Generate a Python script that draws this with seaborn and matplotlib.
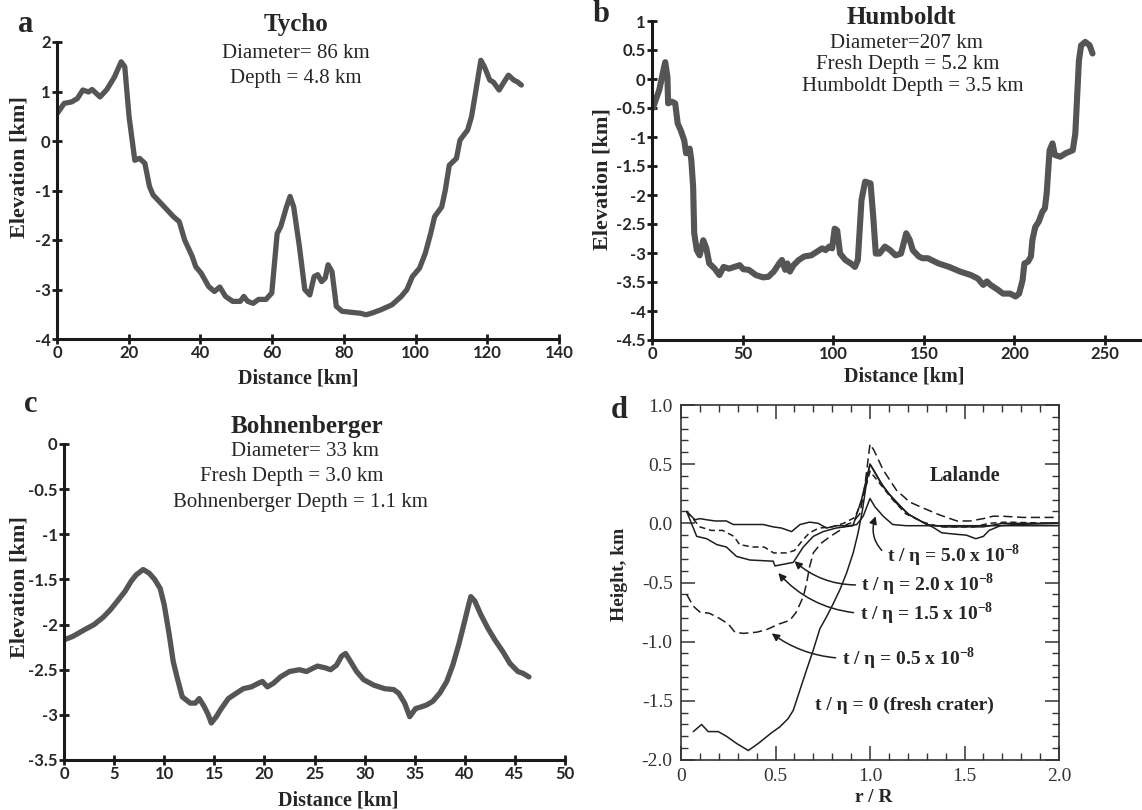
import numpy as np
import pandas as pd
import matplotlib
matplotlib.use("Agg")
import matplotlib.pyplot as plt
import seaborn as sns

# ---------------- data ----------------
tycho_x = [0, 2, 4.1, 5.7, 7.2, 8.8, 9.8, 12, 13.9, 16, 17.9, 18.9, 20.1, 21.7, 23, 24.5, 25.8, 26.8, 29.4, 32.5,
           34.1, 35.6, 37.7, 38.7, 40.2, 42.3, 43.9, 45.4, 47, 49, 51.1, 52.1, 53.2, 54.7, 56.2, 58.3, 59.9, 61.4, 62.4, 64,
           65, 66, 67.6, 69.1, 70.5, 71.7, 72.7, 73.8, 74.8, 75.6, 76.7, 77.9, 79.5, 82, 84.6, 86.2, 87.7, 90.3, 93.4, 96,
           97.6, 99.1, 101.1, 102.7, 104.2, 105.3, 107.3, 108.3, 109.4, 111.4, 112.4, 114.5, 115.6, 116.6, 118.2, 119.2,
           120.7, 121.7, 123.3, 124.4, 125.9, 127.4, 128.5, 129.5]
tycho_y = [0.55, 0.76, 0.79, 0.86, 1.03, 0.99, 1.04, 0.89, 1.04, 1.29, 1.6, 1.5, 0.49, -0.39, -0.35, -0.45, -0.92, -1.09, -1.29, -1.53,
           -1.63, -2.0, -2.33, -2.54, -2.67, -2.94, -3.04, -2.95, -3.14, -3.24, -3.24, -3.14, -3.24, -3.28, -3.2, -3.2, -3.07, -1.87, -1.73, -1.33,
           -1.12, -1.33, -2.13, -3.0, -3.11, -2.74, -2.7, -2.84, -2.77, -2.5, -2.64, -3.34, -3.44, -3.46, -3.48, -3.51, -3.48, -3.41, -3.31, -3.14,
           -3.0, -2.74, -2.57, -2.27, -1.87, -1.53, -1.33, -0.99, -0.49, -0.35, 0.02, 0.22, 0.49, 0.92, 1.63, 1.5,
           1.23, 1.19, 1.03, 1.16, 1.33, 1.23, 1.19, 1.13]

humboldt_x = [0.5, 4, 6.3, 7.3, 8.5, 8.9, 10.9, 12.8, 14.2, 15.8, 17.8, 18.8, 20.8, 21.7, 22.7, 23.3, 24.7, 26.3, 28.3, 30,
              31.6, 34.6, 37.2, 39.5, 42.5, 45.5, 48.4, 50.4, 53.4, 57.3, 61.3, 64.2, 67.2, 70.2, 71.7, 73.5, 74.7, 76.1, 78.1, 81,
              84, 87.9, 90.9, 93.9, 95.8, 97.8, 99.4, 100.8, 102.2, 103.8, 106.7, 109.7, 112, 113.6, 115.6, 117.6, 120.6, 122.1, 123.5, 125.5,
              128.5, 131.4, 134.4, 137.4, 140.3, 142.3, 143.9, 147.2, 149.2, 152.2, 158.1, 164, 170, 175.9, 179.8, 182.8, 184.8, 186.8, 190.7, 193.7,
              197.6, 200.6, 202.6, 204.5, 205.5, 207.5, 209.1, 209.9, 211.5, 213.4, 215.4, 216.8, 217.8, 219.4, 221, 222.3, 225.3, 228.3, 232.2, 233.6,
              234.6, 235.6, 236.8, 239.1, 241.5, 243.1]
humboldt_y = [-0.5, -0.19, 0.15, 0.29, 0.04, -0.42, -0.39, -0.42, -0.77, -0.88, -1.06, -1.28, -1.2, -1.4, -1.86, -2.66, -2.95, -3.04, -2.78, -2.92,
              -3.18, -3.27, -3.38, -3.24, -3.27, -3.24, -3.21, -3.28, -3.29, -3.38, -3.42, -3.41, -3.32, -3.18, -3.12, -3.29, -3.18, -3.32, -3.21, -3.12,
              -3.06, -3.04, -2.98, -2.92, -2.95, -2.89, -2.92, -2.58, -2.61, -3.01, -3.12, -3.18, -3.24, -3.12, -2.09, -1.77, -1.8, -2.38, -3.01, -3.01,
              -2.89, -2.95, -3.04, -3.01, -2.66, -2.78, -2.95, -3.06, -3.09, -3.09, -3.18, -3.24, -3.32, -3.38, -3.44, -3.55, -3.49, -3.55, -3.63, -3.7,
              -3.7, -3.75, -3.7, -3.47, -3.18, -3.15, -3.06, -2.78, -2.55, -2.46, -2.29, -2.23, -1.97, -1.23, -1.11, -1.31, -1.34, -1.28, -1.23, -0.94,
              -0.31, 0.32, 0.58, 0.64, 0.58, 0.44]

bohn_x = [0, 0.9, 2, 3, 3.9, 4.6, 5.4, 6.1, 6.7, 7.2, 7.9, 8.5, 9.05, 9.6, 10, 10.5, 10.9, 11.3, 11.8, 12.6,
          13.1, 13.5, 14, 14.4, 14.7, 15.2, 15.7, 16.4, 17.2, 17.9, 18.7, 19.4, 19.8, 20.3, 20.9, 21.6, 22.5, 23.5, 24.2, 24.9,
          25.3, 26.1, 26.6, 27.2, 27.7, 28.1, 28.6, 29.2, 29.9, 30.9, 32, 32.9, 33.4, 34, 34.5, 35.1, 35.7, 36.2, 36.8, 37.5,
          38.2, 38.8, 39.4, 39.9, 40.3, 40.6, 41, 41.6, 42.3, 43, 43.8, 44.5, 45.3, 45.8, 46.4]
bohn_y = [-2.17, -2.13, -2.06, -2.0, -1.92, -1.84, -1.73, -1.63, -1.52, -1.45, -1.39, -1.43, -1.5, -1.6, -1.78, -2.11, -2.41, -2.59, -2.8, -2.87,
          -2.87, -2.82, -2.91, -3.0, -3.09, -3.02, -2.93, -2.82, -2.76, -2.71, -2.69, -2.65, -2.63, -2.69, -2.65, -2.58, -2.52, -2.5, -2.52, -2.48,
          -2.46, -2.48, -2.5, -2.45, -2.35, -2.32, -2.41, -2.52, -2.61, -2.67, -2.71, -2.72, -2.76, -2.87, -3.02, -2.93, -2.91, -2.89, -2.85, -2.76,
          -2.63, -2.45, -2.22, -2.0, -1.82, -1.69, -1.74, -1.89, -2.04, -2.17, -2.3, -2.43, -2.52, -2.54, -2.58]

# Lalande model profiles (r/R, height km)
fresh_x = [0.065, 0.109, 0.144, 0.197, 0.241, 0.294, 0.356, 0.409, 0.479, 0.523, 0.567, 0.594, 0.629, 0.664, 0.700, 0.735,
           0.770, 0.805, 0.841, 0.876, 0.911, 0.937, 0.960, 0.981, 1.0, 1.02, 1.07, 1.14, 1.21, 1.28, 1.33, 1.38, 1.44,
           1.51, 1.56, 1.6, 1.63, 1.69, 1.76, 2.0]
fresh_y = [-1.76, -1.70, -1.76, -1.76, -1.80, -1.86, -1.92, -1.86, -1.77, -1.72, -1.65, -1.58, -1.41, -1.24, -1.07, -0.89,
           -0.79, -0.68, -0.56, -0.42, -0.25, -0.08, 0.11, 0.34, 0.50, 0.45, 0.31, 0.17, 0.07, 0.01, -0.03, -0.08, -0.09,
           -0.10, -0.13, -0.11, -0.06, -0.02, -0.01, 0.0]
t05_x = [0.03, 0.065, 0.1, 0.15, 0.2, 0.25, 0.285, 0.33, 0.4, 0.45, 0.52, 0.576, 0.61, 0.647, 0.664, 0.68, 0.70, 0.74, 0.79, 0.84,
         0.876, 0.91, 0.946, 0.97, 1.0, 1.02, 1.07, 1.14, 1.21, 1.28, 1.37, 1.46, 1.53, 1.6, 1.65, 1.7, 1.81, 2.0]
t05_y = [-0.6, -0.7, -0.75, -0.76, -0.8, -0.85, -0.92, -0.93, -0.92, -0.9, -0.85, -0.82, -0.75, -0.62, -0.51, -0.37, -0.25, -0.17, -0.11, -0.06,
         -0.01, 0.01, 0.08, 0.28, 0.67, 0.62, 0.45, 0.28, 0.18, 0.13, 0.07, 0.02, 0.02, 0.04, 0.06, 0.06, 0.05, 0.05]
t15_x = [0.03, 0.083, 0.136, 0.19, 0.24, 0.294, 0.365, 0.488, 0.497, 0.594, 0.647, 0.70, 0.752, 0.82, 0.91, 0.955, 1.0,
         1.05, 1.1, 1.2, 1.3, 1.4, 1.6, 1.7, 2.0]
t15_y = [0.1, -0.11, -0.13, -0.18, -0.2, -0.28, -0.31, -0.32, -0.36, -0.33, -0.2, -0.11, -0.07, -0.04, -0.02, 0.2, 0.5,
         0.36, 0.25, 0.08, -0.01, -0.03, -0.03, 0.0, 0.0]
t20_x = [0.03, 0.1, 0.16, 0.22, 0.28, 0.31, 0.38, 0.44, 0.49, 0.56, 0.6, 0.645, 0.68, 0.73, 0.8, 0.86, 0.92, 0.96, 1.0,
         1.05, 1.12, 1.19, 1.28, 1.37, 1.55, 1.63, 1.72, 2.0]
t20_y = [0.1, -0.03, -0.06, -0.06, -0.11, -0.18, -0.2, -0.2, -0.25, -0.25, -0.23, -0.14, -0.08, -0.04, -0.03, 0.0, 0.05, 0.2, 0.44,
         0.34, 0.2, 0.08, 0.01, -0.03, -0.03, 0.0, 0.01, 0.0]
t50_x = [0.03, 0.074, 0.1, 0.136, 0.18, 0.24, 0.277, 0.365, 0.435, 0.488, 0.532, 0.585, 0.63, 0.68, 0.726, 0.77, 0.82, 0.89,
         0.93, 0.964, 1.0, 1.026, 1.07, 1.12, 1.19, 2.0]
t50_y = [0.1, 0.03, 0.04, 0.03, 0.02, 0.02, -0.01, -0.01, -0.01, -0.03, -0.04, -0.07, -0.01, 0.01, 0.0, -0.04, -0.02, -0.02,
         -0.01, 0.06, 0.21, 0.14, 0.06, -0.01, -0.02, -0.02]

# ---------------- style ----------------
sns.set_style("ticks")
plt.rcParams["font.family"] = ["Liberation Serif", "DejaVu Serif"]
plt.rcParams["mathtext.fontset"] = "custom"
plt.rcParams["mathtext.rm"] = "Liberation Serif"
plt.rcParams["mathtext.bf"] = "Liberation Serif:bold"

W, H = 1142, 810
fig = plt.figure(figsize=(W / 100, H / 100), dpi=100)


def rect(l, t, r, b):
    return [l / W, 1 - b / H, (r - l) / W, (b - t) / H]


def ftext(x, y, s, **kw):
    fig.text(x / W, 1 - y / H, s, **kw)


PROFILE = "#555555"
SANS = ["Lato", "DejaVu Sans"]


def style_profile_axes(ax, xlim, ylim, xticks, yticks, ylabel_x, xlabel_y):
    ax.set_xlim(*xlim)
    ax.set_ylim(*ylim)
    ax.set_xticks(xticks)
    ax.set_yticks(yticks)
    ax.set_xticklabels([f"{v:g}" for v in xticks], fontfamily=SANS, fontweight="bold", fontsize=12)
    ax.set_yticklabels([f"{v:g}" for v in yticks], fontfamily=SANS, fontweight="bold", fontsize=12)
    sns.despine(ax=ax)
    for s in ("left", "bottom"):
        ax.spines[s].set_linewidth(2.2)
        ax.spines[s].set_color("#1a1a1a")
    ax.tick_params(direction="inout", length=7, width=2, color="#1a1a1a", pad=1)
    ax.set_ylabel("Elevation [km]", fontsize=16, fontweight="bold")
    ax.set_xlabel("Distance [km]", fontsize=14.5, fontweight="bold")
    # place labels at measured figure positions
    ax.yaxis.set_label_coords(ylabel_x / W, 0.5, transform=fig.transFigure)
    ax.yaxis.label.set_va("center")
    ax.xaxis.set_label_coords(0.5, 1 - xlabel_y / H, transform=fig.transFigure)
    ax.xaxis.label.set_va("center")
    ax.patch.set_alpha(0)


def fix_label_x(ax, xlabel_x, xlabel_y):
    ax.xaxis.set_label_coords(xlabel_x / W, 1 - xlabel_y / H, transform=fig.transFigure)


def fix_label_y(ax, ylabel_x, ylabel_y):
    ax.yaxis.set_label_coords(ylabel_x / W, 1 - ylabel_y / H, transform=fig.transFigure)


# ---------- panel a ----------
axa = fig.add_axes(rect(57, 42, 559, 339))
sns.lineplot(x=tycho_x, y=tycho_y, ax=axa, color=PROFILE, linewidth=3.8, estimator=None, sort=False)
style_profile_axes(axa, (0, 140), (-4, 2), list(range(0, 141, 20)), [-4, -3, -2, -1, 0, 1, 2], 20, 378)
fix_label_x(axa, 298, 378)
fix_label_y(axa, 20, 167)
ftext(26, 24, "a", fontsize=22, fontweight="bold", ha="center", va="center")
ftext(296, 24, "Tycho", fontsize=18, fontweight="bold", ha="center", va="center")
ftext(296, 54, "Diameter= 86 km", fontsize=15, ha="center", va="center")
ftext(296, 79, "Depth = 4.8 km", fontsize=15, ha="center", va="center")

# ---------- panel b ----------
axb = fig.add_axes(rect(652, 21, 1142, 340))
sns.lineplot(x=humboldt_x, y=humboldt_y, ax=axb, color=PROFILE, linewidth=4.4, estimator=None, sort=False)
style_profile_axes(axb, (0, 270.4), (-4.5, 1), [0, 50, 100, 150, 200, 250],
                   [-4.5, -4, -3.5, -3, -2.5, -2, -1.5, -1, -0.5, 0, 0.5, 1], 603, 377)
fix_label_x(axb, 904, 377)
fix_label_y(axb, 603, 179)
ftext(601, 15, "b", fontsize=22, fontweight="bold", ha="center", va="center")
ftext(901, 18, "Humboldt", fontsize=18, fontweight="bold", ha="center", va="center")
ftext(906, 43, "Diameter=207 km", fontsize=15, ha="center", va="center")
ftext(908, 64, "Fresh Depth = 5.2 km", fontsize=15, ha="center", va="center")
ftext(913, 87, "Humboldt Depth = 3.5 km", fontsize=15, ha="center", va="center")

# ---------- panel c ----------
axc = fig.add_axes(rect(64, 444, 565, 760))
sns.lineplot(x=bohn_x, y=bohn_y, ax=axc, color=PROFILE, linewidth=3.8, estimator=None, sort=False)
style_profile_axes(axc, (0, 50), (-3.5, 0), list(range(0, 51, 5)), [-3.5, -3, -2.5, -2, -1.5, -1, -0.5, 0], 20, 800)
fix_label_x(axc, 338, 800)
fix_label_y(axc, 20, 587)
ftext(31, 405, "c", fontsize=22, fontweight="bold", ha="center", va="center")
ftext(307, 427, "Bohnenberger", fontsize=18, fontweight="bold", ha="center", va="center")
ftext(305, 451, "Diameter= 33 km", fontsize=15, ha="center", va="center")
ftext(292, 477, "Fresh Depth = 3.0 km", fontsize=15, ha="center", va="center")
ftext(300, 503, "Bohnenberger Depth = 1.1 km", fontsize=15, ha="center", va="center")

# ---------- panel d ----------
axd = fig.add_axes(rect(681, 405, 1059, 760))
LC = "#1e1e1e"
series_d = [
    (fresh_x, fresh_y, None),
    (t05_x, t05_y, (6, 3)),
    (t15_x, t15_y, None),
    (t20_x, t20_y, (4, 2.5)),
    (t50_x, t50_y, None),
]
for xs, ys, dash in series_d:
    sns.lineplot(x=xs, y=ys, ax=axd, color=LC, linewidth=1.1, estimator=None, sort=False)
    if dash is not None:
        axd.lines[-1].set_dashes(dash)

axd.set_xlim(0, 2)
axd.set_ylim(-2, 1)
axd.set_xticks([0, 0.5, 1.0, 1.5, 2.0])
axd.set_xticklabels(["0", "0.5", "1.0", "1.5", "2.0"])
axd.set_yticks([-2.0, -1.5, -1.0, -0.5, 0.0, 0.5, 1.0])
axd.set_yticklabels(["-2.0", "-1.5", "-1.0", "-0.5", "0.0", "0.5", "1.0"])
axd.set_xticks(np.arange(0, 2.001, 0.1), minor=True)
axd.set_yticks(np.arange(-2, 1.001, 0.1), minor=True)
axd.tick_params(which="both", direction="in", top=True, right=True, color="#333333", labelsize=14,
                labelcolor="#333333")
axd.tick_params(which="major", length=10, width=1.1, pad=6)
axd.tick_params(which="minor", length=5, width=1.0)
for s in axd.spines.values():
    s.set_linewidth(1.2)
    s.set_color("#333333")
axd.set_xlabel("r / R", fontsize=14, fontweight="bold")
axd.set_ylabel("Height, km", fontsize=14, fontweight="bold")
axd.xaxis.set_label_coords(874 / W, 1 - 798 / H, transform=fig.transFigure)
axd.xaxis.label.set_va("center")
axd.yaxis.set_label_coords(620 / W, 1 - 574 / H, transform=fig.transFigure)
axd.yaxis.label.set_va("center")
ftext(619, 410, "d", fontsize=22, fontweight="bold", ha="center", va="center")

axd.text(1.5, 0.40, "Lalande", fontsize=14.5, fontweight="bold", ha="center", va="center")

ann = [
    (r"t / η = 5.0 x 10$^{\mathbf{-8}}$", (1.09, -0.27), (1.03, 0.06), -0.35),
    (r"t / η = 2.0 x 10$^{\mathbf{-8}}$", (0.955, -0.52), (0.60, -0.32), -0.2),
    (r"t / η = 1.5 x 10$^{\mathbf{-8}}$", (0.945, -0.76), (0.515, -0.42), -0.2),
    (r"t / η = 0.5 x 10$^{\mathbf{-8}}$", (0.85, -1.14), (0.48, -0.93), -0.15),
]
for txt, xyt, xy, rad in ann:
    axd.annotate(txt, xy=xy, xytext=xyt, fontsize=14, fontweight="bold", ha="left", va="center",
                 arrowprops=dict(arrowstyle="-|>", color=LC, lw=1.1, mutation_scale=11,
                                 connectionstyle=f"arc3,rad={rad}", relpos=(0, 0.5), shrinkA=2, shrinkB=0))
axd.text(0.71, -1.54, "t / η = 0 (fresh crater)", fontsize=14, fontweight="bold", ha="left", va="center")

fig.savefig("out.png", dpi=100)
